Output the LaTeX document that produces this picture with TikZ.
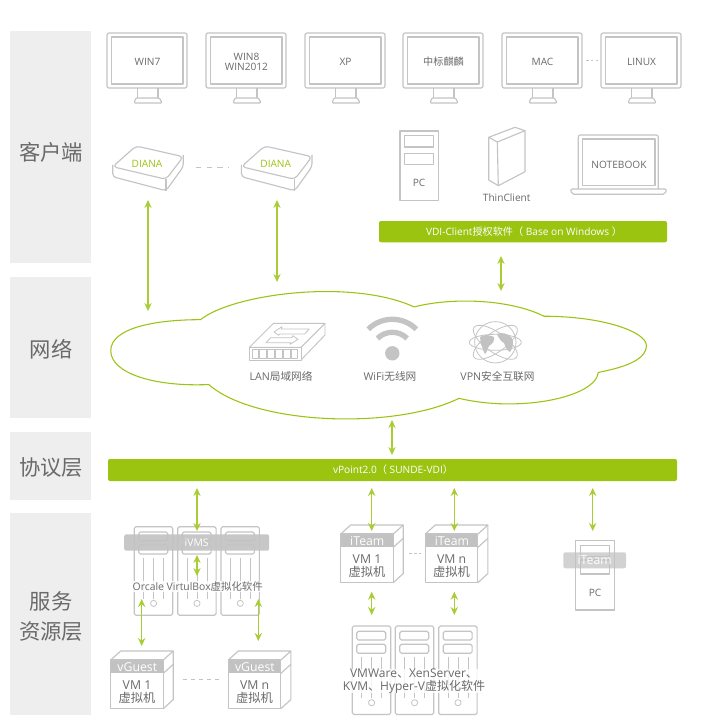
\documentclass[tikz,border=0pt]{standalone}
\usepackage{fontspec}
\setmainfont{Open Sans}
\newfontfamily\cjk{Noto Sans CJK SC}
\newcommand\zh[1]{{\cjk #1}}
\usetikzlibrary{arrows.meta}
\definecolor{lg}{HTML}{C4C4C4}
\definecolor{grn}{HTML}{9BC411}
\definecolor{band}{HTML}{EEEEEE}
\definecolor{tx}{HTML}{6A6A6A}
\definecolor{bandgray}{HTML}{C2C2C2}
\tikzset{
  gl/.style={draw=lg,line width=0.85pt,line join=round},
  sidebox/.style={fill=band,draw=none},
  sidelabel/.style={text=tx,font=\cjk\fontsize{16}{16}\selectfont,inner sep=0pt},
  lab/.style={text=tx,font=\fontsize{7.6}{9}\selectfont,inner sep=0pt,align=center,yshift=-0.6pt},
  netlab/.style={lab,font=\fontsize{8}{9}\selectfont},
  biglab/.style={text=tx,font=\fontsize{9.2}{10}\selectfont,inner sep=0pt,align=center},
  wlab/.style={text=white,font=\fontsize{9.2}{10}\selectfont,inner sep=0pt},
  greenbar/.style={fill=grn,draw=none,rounded corners=1.5pt,text=white,font=\fontsize{7.6}{9}\selectfont,inner sep=0pt},
  bartext/.style={text=white,font=\fontsize{7.6}{9}\selectfont,inner sep=0pt},
  link/.style={draw=grn!85!white,line width=0.8pt,{Stealth[length=6pt,width=5.5pt]}-{Stealth[length=6pt,width=5.5pt]}},
  dotline/.style={draw=lg,line width=0.7pt,dash pattern=on 3pt off 3pt},
  gband/.style={fill=bandgray,draw=none,rounded corners=1.5pt,fill opacity=.9,text opacity=1,text=white,font=\fontsize{7.8}{9}\selectfont,inner sep=0pt},
  glow/.style={fill=white,fill opacity=.8,text opacity=1,text=tx,inner sep=0.5pt,align=center,font=\fontsize{7.8}{9.6}\selectfont},
}
% monitor: x offset, name, text
\newcommand\mymon[3]{%
  \begin{scope}[shift={(#1,33)}]
    \draw[gl,rounded corners=1.5pt] (0,0) rectangle (80,55);
    \draw[gl] (4.5,4) rectangle (76,51);
    \draw[gl] (30.5,55) -- (30.5,65) (51,55) -- (51,65);
    \draw[gl,rounded corners=0.8pt] (27,70) -- (29,65) -- (52.5,65) -- (55,70) -- cycle;
    \node[lab] (#2) at (40.5,28) {#3};
  \end{scope}}
% diana box
\newcommand\mydiana[2]{%
  \begin{scope}[shift={(#1,0)}]
    \draw[gl,rounded corners=3pt] (112.7,166.7) -- (136,146) -- (183.3,156.7) -- (166,179.3) -- cycle;
    \draw[gl,rounded corners=2.5pt] (112.7,165) -- (112.7,176.7) -- (166,190.7) -- (183.3,166.7) -- (183.3,155);
    \draw[gl] (166,179.3) -- (166,190.7);
    \node[text=grn,font=\fontsize{7.6}{9}\selectfont,inner sep=0pt,yshift=-0.5pt] (#2) at (147,163) {DIANA};
  \end{scope}}
% server: x,y,name
\newcommand\myserver[3]{%
  \begin{scope}[shift={(#1,#2)}]
    \draw[gl,rounded corners=1.2pt] (0,0) rectangle (38.4,88.5) node[pos=.5,inner sep=0pt] (#3) {};
    \draw[gl,rounded corners=1.2pt] (4.5,5.3) rectangle (33.4,14);
    \draw[gl,rounded corners=1.2pt] (4.5,18.3) rectangle (33.4,27.3);
    \draw[lg,line width=0.6pt] (9.3,31.3) -- (9.3,72) (19.3,31.3) -- (19.3,72) (29.3,31.3) -- (29.3,72);
    \draw[gl,line width=0.6pt] (19.3,76.7) circle[radius=2.3pt];
  \end{scope}}
% vm box: x, y of front top, band text, vm line, name
\newcommand\myvm[5]{%
  \begin{scope}[shift={(#1,#2)}]
    \fill[bandgray] (0,0) rectangle (52.6,13.3);
    \draw[gl] (0,0) rectangle (52.6,48.7);
    \draw[gl] (0,0) -- (10,-9) -- (62.6,-9) -- (52.6,0);
    \draw[gl] (62.6,-9) -- (62.6,39.5) -- (52.6,48.7);
    \draw[gl] (52.6,13.3) -- (62.6,4.3);
    \node[wlab] (#5) at (26.6,7.4) {#3};
    \node[biglab] (#5t) at (26.3,32.2) {VM #4\\[0pt]\zh{虚拟机}};
  \end{scope}}
\begin{document}
\begin{tikzpicture}[x=0.75pt,y=-0.75pt]
\useasboundingbox (0,0) rectangle (714,727);
\fill[white] (0,0) rectangle (714,727);
% side bands
\fill[sidebox] (10,31) rectangle (91,263);
\fill[sidebox] (10,277) rectangle (91,418);
\fill[sidebox] (10,432) rectangle (91,500);
\fill[sidebox] (10,513) rectangle (91,715);
\node[sidelabel] (lc) at (51,152) {客户端};
\node[sidelabel] (ln) at (51,349) {网络};
\node[sidelabel] (lp) at (51,467) {协议层};
\node[sidelabel] (ls1) at (51,601) {服务};
\node[sidelabel] (ls2) at (51,632) {资源层};
% monitors
\mymon{107}{m1}{\raisebox{-1.5pt}{WIN7}}
\mymon{206}{m2}{WIN8\\[-1.5pt]WIN2012}
\mymon{305}{m3}{XP}
\mymon{403}{m4}{\zh{中标麒麟}}
\mymon{502}{m5}{MAC}
\mymon{601}{m6}{LINUX}
\coordinate (dm1) at (586,60.7);
\coordinate (dm2) at (598,60.7);
\draw[dotline,dash pattern=on 2pt off 1.6pt] (dm1) -- (dm2);
% diana
\mydiana{0}{d1}
\mydiana{128.7}{d2}
\coordinate (dd1) at (196,167);
\coordinate (dd2) at (229,167);
\draw[dotline,dash pattern=on 4pt off 4pt] (dd1) -- (dd2);
% PC
\draw[gl] (400,131) rectangle (438.3,200.7);
\draw[gl] (404.3,135.7) rectangle (433.3,147);
\draw[gl] (404.3,153.3) rectangle (433.3,164.7);
\node[lab] (pc) at (419,182) {PC};
% thin client
\draw[gl] (488.7,137.3) -- (515,127.3) -- (525,130.7) -- (497.3,142) -- cycle;
\draw[gl] (488.7,137.3) -- (488.7,180) -- (498.3,185.7) -- (525,171.7) -- (525,130.7);
\draw[gl] (497.3,142) -- (498.3,185.7);
\node[lab] (tc) at (506.7,197) {ThinClient};
% notebook
\draw[gl,rounded corners=1.5pt] (578.3,189) -- (578.3,135) -- (658.3,135) -- (658.3,189);
\draw[gl] (582.7,139) rectangle (655,185.7);
\draw[gl,rounded corners=1.5pt] (570.3,189) -- (666.7,189) -- (665,194.3) -- (572,194.3) -- cycle;
\node[lab] (nb) at (619,164) {NOTEBOOK};
% client bar
\path[greenbar] (379,221) rectangle (667,242.3);
\node[bartext] (vdi) at (524,232) {VDI-Client\zh{授权软件（} Base on Windows \zh{）}};
% cloud
\begin{scope}[shift={(100,280)},x=0.359*0.75pt,y=-0.345*0.75pt]
\draw[grn,line width=0.8pt] (280,115)
  .. controls (370,40) and (700,-5) .. (875,78)
  .. controls (980,50) and (1140,55) .. (1237,105)
  .. controls (1400,105) and (1522,150) .. (1522,190)
  .. controls (1522,235) and (1450,255) .. (1388,268)
  .. controls (1380,340) and (1170,385) .. (1000,343)
  .. controls (820,435) and (430,420) .. (303,303)
  .. controls (150,310) and (30,270) .. (30,205)
  .. controls (30,140) and (150,115) .. (280,115) -- cycle;
\end{scope}
% LAN icon
\begin{scope}[shift={(240,310)},x=0.25pt,y=-0.25pt]
\draw[gl,line width=0.7pt] (28,112) -- (100,40) -- (255,40) -- (183,112) -- cycle;
\draw[gl,line width=0.7pt] (28,112) rectangle (183,150);
\draw[gl,line width=0.7pt] (183,150) -- (255,75) -- (255,40);
\foreach \i in {0,1,2,3,4,5} \draw[gl,line width=0.6pt] ({36+\i*23.5},118) rectangle ({56+\i*23.5},144);
\draw[gl,line width=0.6pt] (102,66) -- (126,50) -- (124,57) -- (208,57) -- (194,72) -- (118,72) -- (116,76) -- cycle;
\draw[gl,line width=0.6pt] (174,88) -- (150,103) -- (152,98) -- (78,98) -- (92,83) -- (156,83) -- (158,77) -- cycle;
\end{scope}
\node[netlab] (lan) at (281,376) {LAN\zh{局域网络}};
% WiFi icon
\coordinate (wc) at (392.3,353.3);
\fill[lg] (wc) circle[radius=5.4pt];
\draw[lg,line width=4pt] (416.34,329.26) arc[start angle=45,end angle=135,radius=25.5pt];
\draw[lg,line width=4pt] (407.15,338.45) arc[start angle=45,end angle=135,radius=15.75pt];
\node[netlab] (wifi) at (390,376) {WiFi\zh{无线网}};
% globe icon
\coordinate (gc) at (495.3,342.3);
\fill[bandgray] (480,337) .. controls (484,334) and (490,335) .. (494,337) .. controls (495,341) and (492,344) .. (489,346) .. controls (487,349) and (487,353) .. (485,354) .. controls (483,351) and (482,346) .. (481,344) -- cycle;
\fill[bandgray] (497,334) .. controls (501,332) and (508,333) .. (512,338) .. controls (514,343) and (513,348) .. (510,352) .. controls (507,351) and (505,346) .. (504,343) .. controls (502,342) and (499,339) .. (497,334) -- cycle;
\draw[lg,line width=0.6pt] (gc) circle[radius=15.5pt];
\draw[lg,line width=0.6pt] (gc) ellipse[x radius=19.5pt,y radius=7.5pt,rotate=35];
\draw[lg,line width=0.6pt] (gc) ellipse[x radius=19.5pt,y radius=7.5pt,rotate=-35];
\draw[lg,line width=0.6pt] (gc) ellipse[x radius=19.5pt,y radius=6pt];
\node[netlab] (vpn) at (497.5,376) {VPN\zh{安全互联网}};
% vPoint bar
\path[greenbar] (108,459) rectangle (677,481);
\node[bartext] (vp) at (393,470) {vPoint2.0\zh{（} SUNDE-VDI\zh{）}};
% servers group 1
\myserver{134.3}{526.7}{s1}
\myserver{177.7}{526.7}{s2}
\myserver{221}{526.7}{s3}
\node[gband,minimum width=108.7pt,minimum height=12.3pt] (ivms) at (196.7,542.5) {iVMS};
\node[glow] (orc) at (197.7,586.7) {Orcale VirtulBox\zh{虚拟化软件}};
% servers group 2
\myserver{352.3}{626}{s4}
\myserver{395.3}{626}{s5}
\myserver{438.7}{626}{s6}
\node[glow,inner sep=0pt,font=\fontsize{9}{9.2}\selectfont] (vmw) at (414,681) {VMWare\zh{、}XenServer\zh{、}\\KVM\zh{、}Hyper-V\zh{虚拟化软件}};
% vm boxes
\myvm{110.7}{660}{vGuest}{1}{g1}
\myvm{228.3}{660}{vGuest}{n}{g2}
\myvm{340.7}{534}{iTeam}{1}{t1}
\myvm{425.3}{534}{iTeam}{n}{t2}
\coordinate (dg1) at (182.7,679.3);
\coordinate (dg2) at (220,679.3);
\draw[dotline] (dg1) -- (dg2);
\coordinate (dt1) at (409.3,553);
\coordinate (dt2) at (421,553);
\draw[dotline,dash pattern=on 2pt off 1.6pt] (dt1) -- (dt2);
% PC with iTeam
\draw[gl] (575.7,540.7) rectangle (614.3,610);
\draw[gl] (580.7,545.3) rectangle (609.3,556.3);
\draw[gl] (580.7,560) rectangle (609.3,574);
\node[lab] (pc2) at (595,592) {PC};
\node[gband,fill opacity=.72,minimum width=47pt,minimum height=12pt,font=\fontsize{9.2}{10}\selectfont] (it3) at (594.7,560.3) {iTeam};
% connectors
\coordinate (a1a) at (148,200); \coordinate (a1b) at (148,311);
\coordinate (a2a) at (277,200); \coordinate (a2b) at (277,282);
\coordinate (a3a) at (501,256); \coordinate (a3b) at (501,291);
\coordinate (a4a) at (392,420); \coordinate (a4b) at (392,455);
\coordinate (a5a) at (197,488); \coordinate (a5b) at (197,531);
\coordinate (a6a) at (197,555); \coordinate (a6b) at (197,576);
\coordinate (a7a) at (141.7,599); \coordinate (a7b) at (141.7,646);
\coordinate (a8a) at (258.3,599); \coordinate (a8b) at (258.3,641);
\coordinate (a9a) at (371.7,488); \coordinate (a9b) at (371.7,531);
\coordinate (a10a) at (454.3,488); \coordinate (a10b) at (454.3,531);
\coordinate (a11a) at (371.7,591.7); \coordinate (a11b) at (371.7,615);
\coordinate (a12a) at (454.3,591.7); \coordinate (a12b) at (454.3,615);
\coordinate (a13a) at (592.7,488); \coordinate (a13b) at (592.7,531);
\foreach \n in {1,...,13} \draw[link] (a\n a) -- (a\n b);
\end{tikzpicture}
\end{document}
